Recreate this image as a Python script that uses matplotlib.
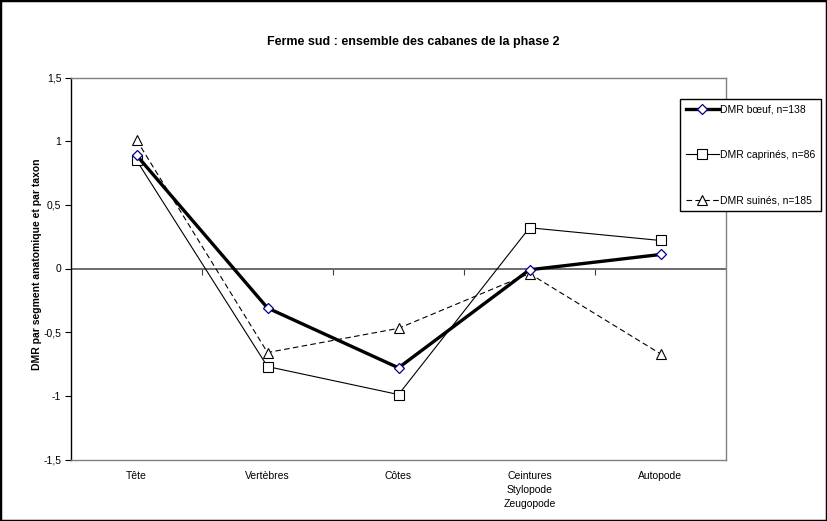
import numpy as np
import matplotlib
matplotlib.use('Agg')
from matplotlib import pyplot as plt
from matplotlib.patches import Rectangle
from matplotlib.ticker import FuncFormatter

plt.rcParams['font.family'] = ['Liberation Sans', 'DejaVu Sans']

categories = ['Tête', 'Vertèbres', 'Côtes', 'Ceintures\nStylopode\nZeugopode', 'Autopode']
boeuf = [0.89, -0.31, -0.78, -0.01, 0.11]
caprines = [0.85, -0.77, -0.99, 0.32, 0.22]
suines = [1.01, -0.66, -0.47, -0.04, -0.67]
yticks = [-1.5, -1, -0.5, 0, 0.5, 1, 1.5]

fig = plt.figure(figsize=(8.27, 5.21), dpi=100)
ax = fig.add_axes([71 / 827, 61.5 / 521, 655 / 827, 382 / 521])
x = np.arange(len(categories))

ax.axhline(0, color='#606060', lw=1.3, zorder=1)
ax.plot(x, boeuf, color='black', lw=2.4, marker='D', ms=5, mfc='white',
        mec='#00008b', mew=0.9, label='DMR bœuf, n=138', zorder=4)
ax.plot(x, caprines, color='black', lw=0.8, marker='s', ms=6.5, mfc='white',
        mec='black', mew=0.8, label='DMR caprinés, n=86', zorder=3)
ax.plot(x, suines, color='black', lw=0.8, ls=(0, (5, 3)), marker='^', ms=7,
        mfc='white', mec='black', mew=0.8, label='DMR suinés, n=185', zorder=3)

ax.set_xlim(-0.5, len(categories) - 0.5)
ax.set_ylim(-1.5, 1.5)
ax.set_yticks(yticks)
ax.yaxis.set_major_formatter(FuncFormatter(lambda v, p: ('%g' % v).replace('.', ',')))
ax.tick_params(axis='y', direction='out', length=4, width=0.8, labelsize=7.5, pad=3)

ax.set_xticks(x)
ax.set_xticklabels(categories, fontsize=7.5, va='top', linespacing=1.5)
ax.tick_params(axis='x', length=0, pad=8)

# category separators on the zero axis
sec = ax.secondary_xaxis(0.5)
sec.xaxis.set_ticks_position('bottom')
sec.set_xticks(x[:-1] + 0.5)
sec.tick_params(axis='x', direction='out', length=4, width=0.8, labelbottom=False,
                labeltop=False, color='#404040')
for s in sec.spines.values():
    s.set_visible(False)

for s in ['top', 'right', 'bottom']:
    ax.spines[s].set_color('#808080')
    ax.spines[s].set_linewidth(1.0)
ax.spines['left'].set_color('black')
ax.spines['left'].set_linewidth(1.0)

ax.set_ylabel('DMR par segment anatomique et par taxon', fontsize=7.5,
              fontweight='bold')
ax.yaxis.set_label_coords(-0.045, 0.51)
fig.text(0.5, 1 - 42 / 521, 'Ferme sud : ensemble des cabanes de la phase 2',
         ha='center', va='center', fontsize=9, fontweight='bold')

leg = ax.legend(loc='upper left', bbox_to_anchor=(680 / 827, 1 - 99 / 521),
                bbox_transform=fig.transFigure, fontsize=7.5, frameon=True,
                fancybox=False, edgecolor='black', framealpha=1,
                handlelength=3.2, handletextpad=0.1, borderpad=0.55,
                labelspacing=3.4, borderaxespad=0)
leg.get_frame().set_linewidth(1.0)

fig.patches.append(Rectangle((0, 0), 1, 1, transform=fig.transFigure,
                             fill=False, edgecolor='black', lw=2.5))

fig.savefig('out.png', dpi=100)
